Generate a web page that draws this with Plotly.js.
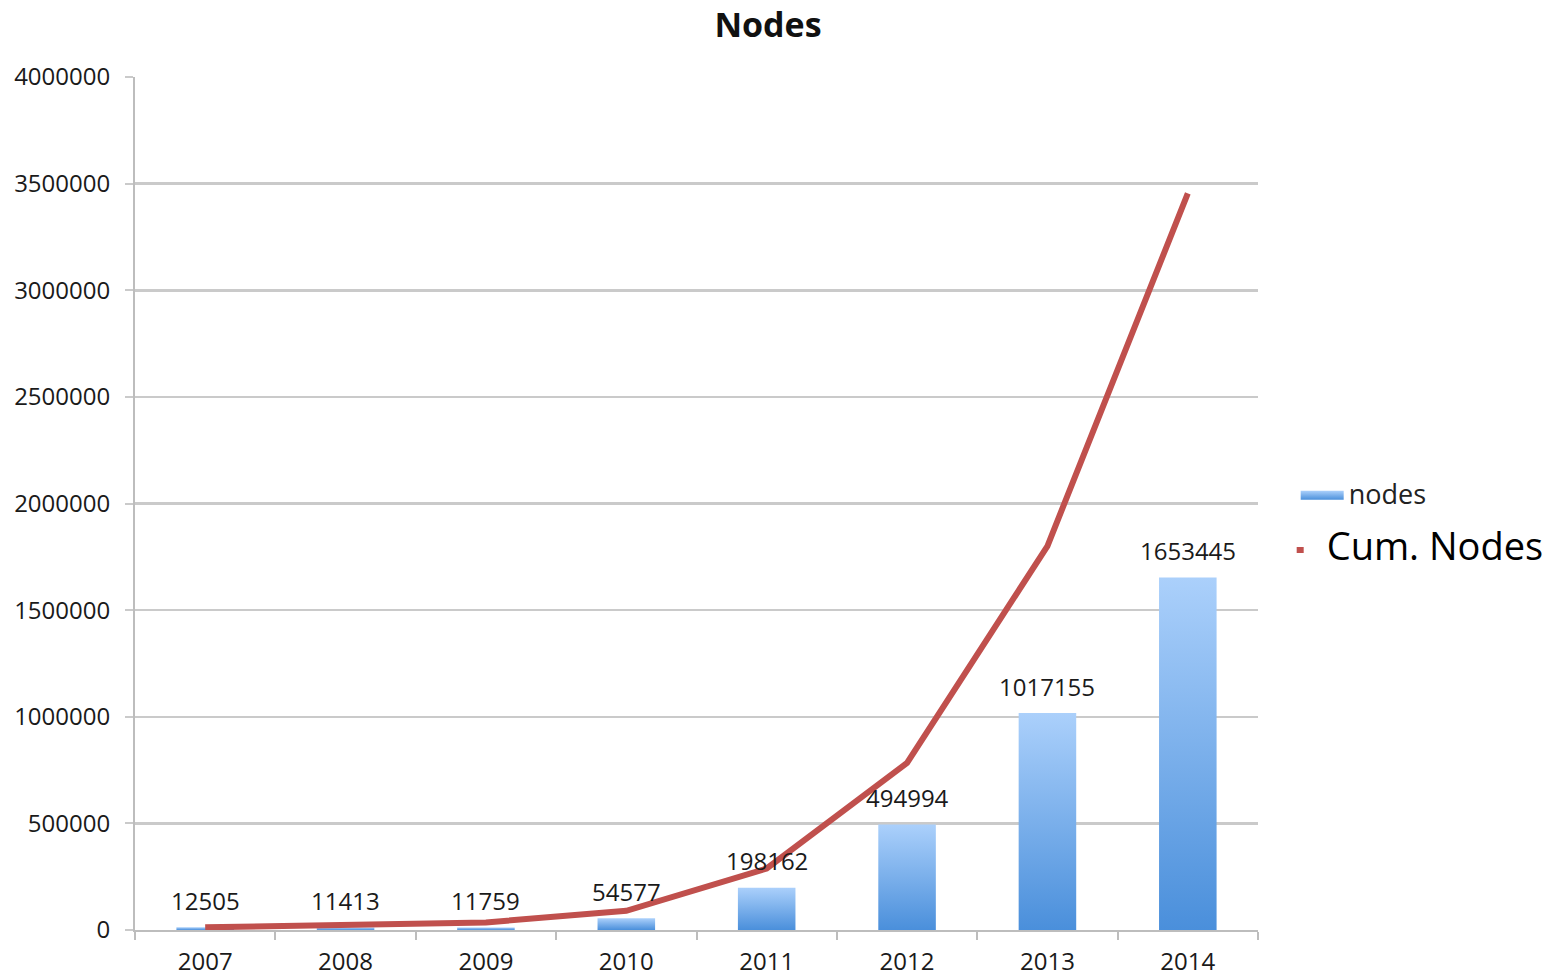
<!DOCTYPE html>
<html>
<head>
<meta charset="utf-8">
<script src="https://cdn.plot.ly/plotly-3.0.1.min.js"></script>
<style>
html,body{margin:0;padding:0;background:#fff;}
#chart{width:1562px;height:978px;}
</style>
</head>
<body>
<div id="chart"></div>
<script>
const years = ["2007","2008","2009","2010","2011","2012","2013","2014"];
const nodes = [12505, 11413, 11759, 54577, 198162, 494994, 1017155, 1653445];
const cumNodes = [12505, 23918, 35677, 90254, 288416, 783410, 1800565, 3454010];
const yTicks = [0, 500000, 1000000, 1500000, 2000000, 2500000, 3000000, 3500000, 4000000];

const FONT = "Open Sans, Noto Sans, sans-serif";

const traces = [
  {
    type: "bar",
    name: "nodes",
    legendgroup: "a",
    x: years,
    y: nodes,
    width: 0.41,
    marker: {color: "#79aeea", line: {width: 0}},
    hoverinfo: "x+y"
  },
  {
    type: "scatter",
    mode: "lines",
    name: "<span style=\"font-size:38px;color:#000\">Cum. Nodes</span>",
    legendgroup: "b",
    x: years,
    y: cumNodes,
    line: {color: "#c0504d", width: 6},
    hoverinfo: "x+y"
  }
];

// data labels above the bars (x given as category index)
const annotations = years.map((yr, i) => ({
  x: i,
  y: nodes[i],
  xref: "x",
  yref: "y",
  text: String(nodes[i]),
  showarrow: false,
  yanchor: "middle",
  xanchor: "center",
  yshift: 27,
  font: {family: FONT, size: 24, color: "#1a1a1a"}
}));

const layout = {
  width: 1562,
  height: 978,
  paper_bgcolor: "#ffffff",
  plot_bgcolor: "#ffffff",
  margin: {l: 135, r: 304, t: 77, b: 48, autoexpand: false},
  title: {
    text: "<b>Nodes</b>",
    font: {family: FONT, size: 34, color: "#111"},
    x: 768 / 1562, xref: "container", xanchor: "center",
    y: 1 - 25 / 978, yref: "container", yanchor: "middle"
  },
  annotations: annotations,
  showlegend: true,
  legend: {
    x: 1.03, xanchor: "left",
    y: 0.478, yanchor: "middle",
    font: {family: FONT, size: 27, color: "#222"},
    bgcolor: "rgba(0,0,0,0)",
    itemwidth: 30,
    tracegroupgap: 18
  },
  xaxis: {
    type: "category",
    categoryorder: "array",
    categoryarray: years,
    range: [-0.5, 7.5],
    showgrid: false,
    showline: true,
    linecolor: "#bdbdbd",
    linewidth: 2,
    ticks: "outside",
    tickson: "boundaries",
    ticklen: 8,
    tickwidth: 2,
    tickcolor: "#bdbdbd",
    ticklabelstandoff: 9,
    tickfont: {family: FONT, size: 24, color: "#1a1a1a"},
    zeroline: false,
    fixedrange: true
  },
  yaxis: {
    range: [0, 4000000],
    tickmode: "array",
    tickvals: yTicks,
    ticktext: yTicks.map(String),
    showgrid: true,
    gridcolor: "#cacaca",
    gridwidth: 2.5,
    showline: true,
    linecolor: "#bdbdbd",
    linewidth: 2,
    ticks: "outside",
    ticklen: 8,
    tickwidth: 2,
    tickcolor: "#cacaca",
    ticklabelstandoff: 10,
    tickfont: {family: FONT, size: 24, color: "#1a1a1a"},
    zeroline: false,
    fixedrange: true
  }
};

function applyStyling(gd) {
  const svg = gd.querySelector("svg.main-svg");
  if (!svg) return;
  let defs = svg.querySelector("defs");
  if (!defs) {
    defs = document.createElementNS("http://www.w3.org/2000/svg", "defs");
    svg.insertBefore(defs, svg.firstChild);
  }
  if (!svg.querySelector("#barGrad")) {
    const g = document.createElementNS("http://www.w3.org/2000/svg", "linearGradient");
    g.setAttribute("id", "barGrad");
    g.setAttribute("x1", "0"); g.setAttribute("y1", "0");
    g.setAttribute("x2", "0"); g.setAttribute("y2", "1");
    const s1 = document.createElementNS("http://www.w3.org/2000/svg", "stop");
    s1.setAttribute("offset", "0"); s1.setAttribute("stop-color", "#abd0fb");
    const s2 = document.createElementNS("http://www.w3.org/2000/svg", "stop");
    s2.setAttribute("offset", "1"); s2.setAttribute("stop-color", "#4a8fdb");
    g.appendChild(s1); g.appendChild(s2);
    defs.appendChild(g);
  }
  gd.querySelectorAll(".barlayer .point path").forEach(p => {
    p.style.fill = "url(#barGrad)";
  });
  gd.querySelectorAll(".legend .traces").forEach(tr => {
    const txt = tr.querySelector("text.legendtext");
    if (!txt) return;
    const label = txt.textContent.trim();
    if (label === "nodes") {
      tr.querySelectorAll(".legendpoints path").forEach(p => {
        p.setAttribute("d", "M-11,-3H32V6H-11Z");
        p.style.fill = "url(#barGrad)";
      });
      txt.setAttribute("x", "57");
      txt.querySelectorAll("tspan").forEach(t => { if (t.hasAttribute("x")) t.setAttribute("x", "57"); });
    } else if (label === "Cum. Nodes") {
      tr.querySelectorAll(".legendlines path").forEach(p => {
        p.setAttribute("d", "M5,0h7");
      });
      txt.setAttribute("x", "35");
      txt.querySelectorAll("tspan").forEach(t => { if (t.hasAttribute("x")) t.setAttribute("x", "35"); });
    }
  });
}

const gd = document.getElementById("chart");
Plotly.newPlot(gd, traces, layout, {displayModeBar: false, staticPlot: true}).then(() => {
  applyStyling(gd);
  gd.on("plotly_afterplot", () => applyStyling(gd));
});
</script>
</body>
</html>
